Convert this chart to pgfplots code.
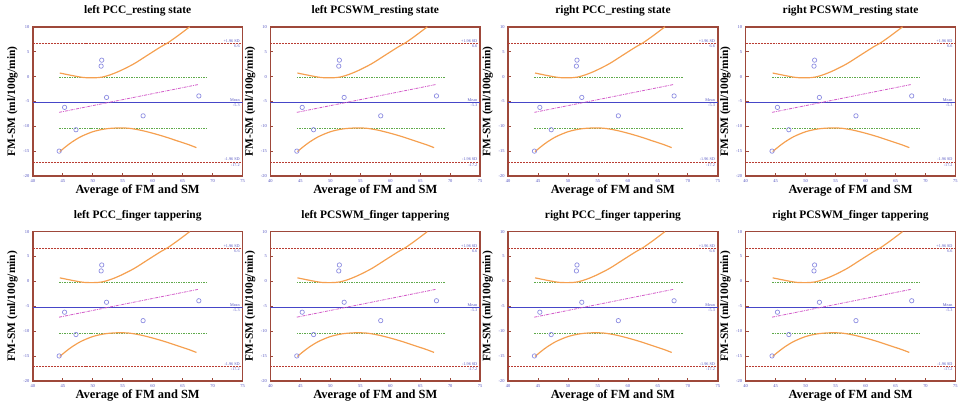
\documentclass[border=0pt]{standalone}
\usepackage{fontspec}
\setmainfont{Liberation Serif}
\usepackage{pgfplots}
\usepackage{pgfplotstable}
\pgfplotsset{compat=1.18}
\usepgfplotslibrary{groupplots}

\definecolor{frame}{RGB}{158,72,58}
\definecolor{sdred}{RGB}{185,60,50}
\definecolor{meanblue}{RGB}{70,70,200}
\definecolor{cigreen}{RGB}{95,170,75}
\definecolor{regpink}{RGB}{210,90,200}
\definecolor{bandorange}{RGB}{245,160,80}
\definecolor{ptblue}{RGB}{140,140,225}
\definecolor{lblblue}{RGB}{80,80,190}

% differences against means
\pgfplotstableread{
x y
44.4 -15.0
45.3 -6.2
47.2 -10.7
51.4 2.1
51.5 3.3
52.3 -4.2
58.4 -7.9
67.7 -3.9
}\pointtab

% upper prediction curve
\pgfplotstableread{
x y
44.5 0.71
46.75 0.16
48.44 -0.19
50.13 -0.25
51.54 -0.12
52.94 0.36
54.63 1.19
56.88 2.57
59.13 4.29
61.38 6.01
62.5 6.77
64.2 8.21
66.17 10.0
}\upperband

% lower prediction curve
\pgfplotstableread{
x y
44.5 -15.1
45.5 -14.1
46.5 -13.2
48 -12.1
50 -11.1
52 -10.55
54 -10.35
56 -10.4
58 -10.8
60 -11.4
62 -12.1
64 -12.9
66 -13.7
67.3 -14.3
}\lowerband

\newcommand{\panel}[1]{%
  \nextgroupplot[title={#1}]
  \addplot[sdred, line width=1.1pt, dash pattern=on 2pt off 1pt] coordinates {(40,6.6) (75,6.6)};
  \addplot[sdred, line width=1.1pt, dash pattern=on 2pt off 1pt] coordinates {(40,-17.2) (75,-17.2)};
  \addplot[meanblue, line width=0.9pt] coordinates {(40,-5.3) (75,-5.3)};
  \addplot[cigreen, line width=0.8pt, dash pattern=on 1.5pt off 1pt] coordinates {(44.4,-0.2) (69.2,-0.2)};
  \addplot[cigreen, line width=0.8pt, dash pattern=on 1.5pt off 1pt] coordinates {(44.4,-10.4) (69.2,-10.4)};
  \addplot[regpink, line width=0.8pt, dash pattern=on 3pt off 1pt on 0.8pt off 1pt] coordinates {(44.4,-7.2) (67.6,-1.6)};
  \addplot[bandorange, line width=1.2pt, smooth] table {\upperband};
  \addplot[bandorange, line width=1.2pt, smooth] table {\lowerband};
  \addplot[only marks, mark=o, mark size=2.2pt, ptblue, mark options={line width=0.7pt}] table {\pointtab};
  \node[lbl, anchor=south east] at (axis cs:74.7,6.6) {+1.96 SD};
  \node[lbl, anchor=north east] at (axis cs:74.7,6.6) {6.6};
  \node[lbl, anchor=south east] at (axis cs:74.7,-5.3) {Mean};
  \node[lbl, anchor=north east] at (axis cs:74.7,-5.3) {-5.3};
  \node[lbl, anchor=south east] at (axis cs:74.7,-17.2) {-1.96 SD};
  \node[lbl, anchor=north east] at (axis cs:74.7,-17.2) {-17.2};
}

\begin{document}
\begin{tikzpicture}
\tikzset{lbl/.style={font=\fontsize{4.2}{4.2}\selectfont, text=lblblue, inner sep=1pt}}
\begin{groupplot}[
    group style={group size=4 by 2, horizontal sep=28pt, vertical sep=56pt},
    width=211pt, height=150pt, scale only axis,
    xmin=40, xmax=75, ymin=-20, ymax=10,
    xtick={40,45,...,75}, ytick={-20,-15,...,10},
    tick pos=left,
    axis line style={frame, line width=1.6pt},
    major tick style={frame, line width=0.8pt},
    major tick length=3pt,
    tick label style={font=\fontsize{4.5}{4.5}\selectfont, text=lblblue},
    /pgf/number format/assume math mode=true,
    title style={font=\fontsize{11.5}{13}\selectfont\bfseries, at={(0.5,1)}, anchor=south, yshift=1pt},
    xlabel={Average of FM and SM},
    ylabel={FM-SM (ml/100g/min)},
    xlabel style={font=\fontsize{12.5}{14}\selectfont\bfseries, at={(axis description cs:0.5,0)}, anchor=north, yshift=-5pt},
    ylabel style={font=\fontsize{11.5}{13}\selectfont\bfseries, at={(axis description cs:-0.097,0.5)}, anchor=center},
]
\panel{left PCC\_resting state}
\panel{left PCSWM\_resting state}
\panel{right PCC\_resting state}
\panel{right PCSWM\_resting state}
\panel{left PCC\_finger tappering}
\panel{left PCSWM\_finger tappering}
\panel{right PCC\_finger tappering}
\panel{right PCSWM\_finger tappering}
\end{groupplot}
\path ([shift={(-33pt,27pt)}]group c1r1.north west) rectangle ([shift={(0pt,-26pt)}]group c4r2.south east);
\end{tikzpicture}
\end{document}
